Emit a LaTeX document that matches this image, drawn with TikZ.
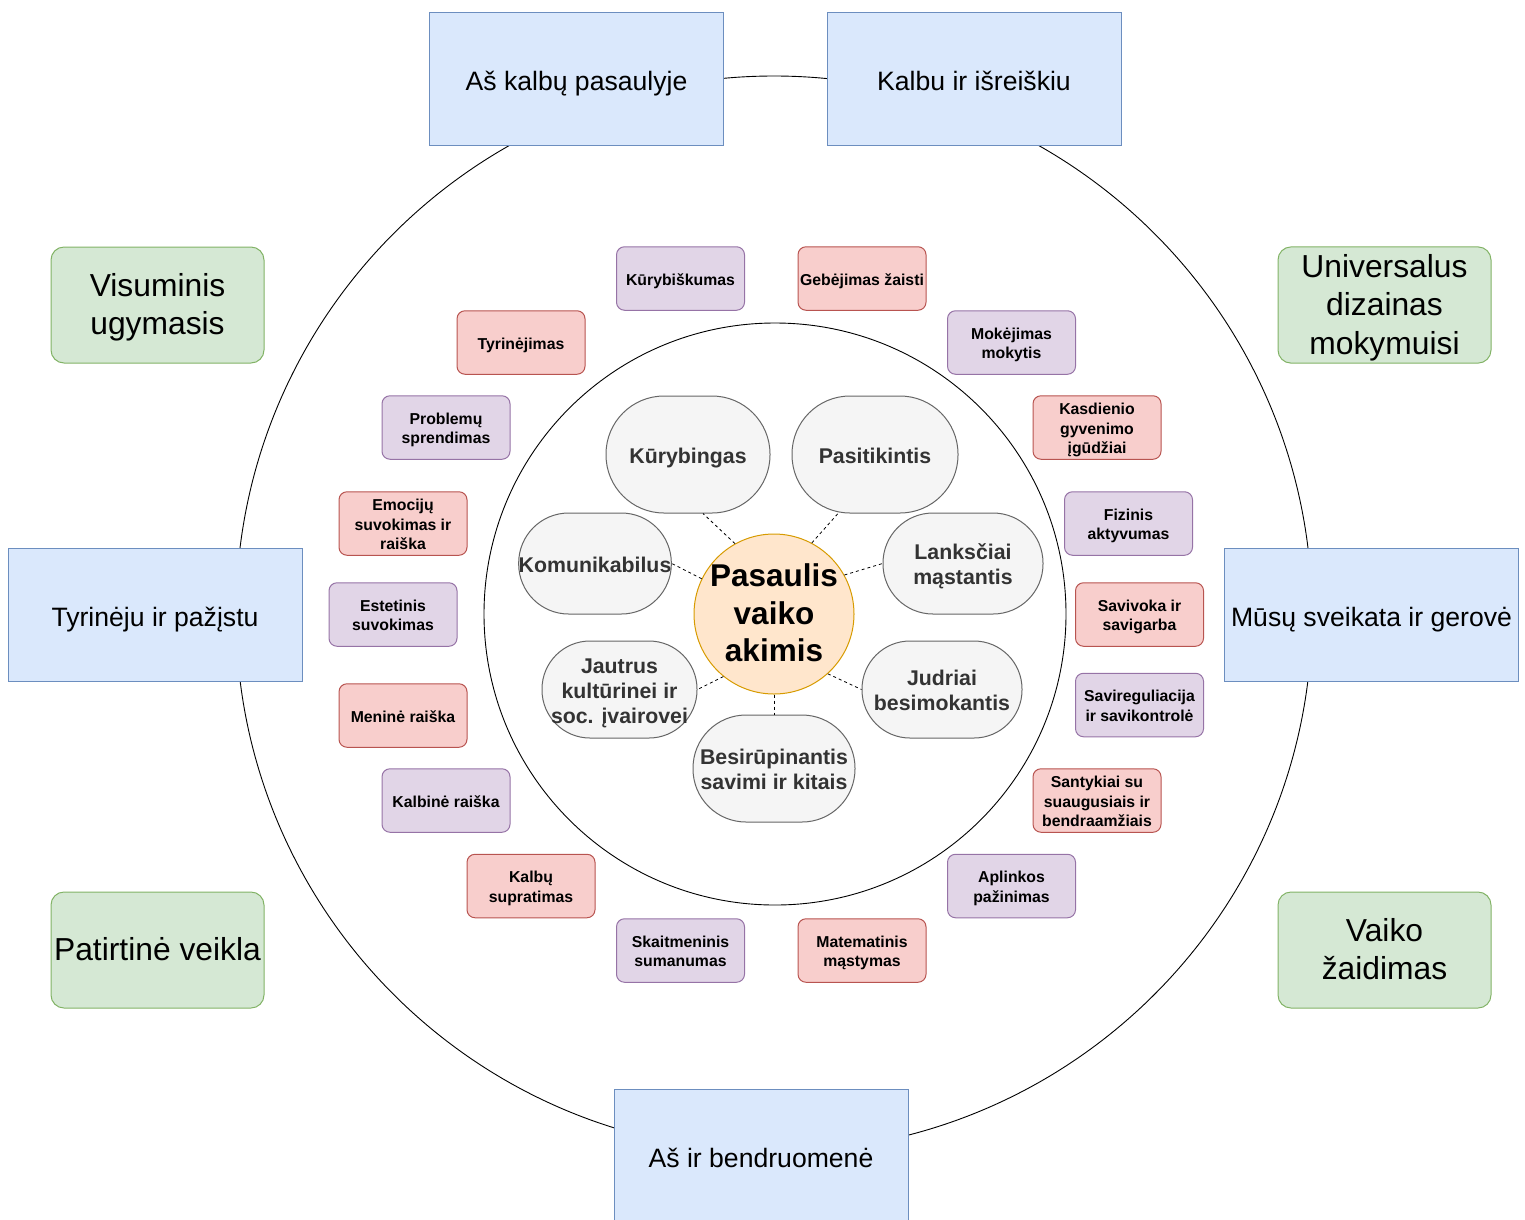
\documentclass[tikz,border=0pt]{standalone}
\usepackage{fontspec}
\setmainfont{Liberation Sans}
\definecolor{blueF}{HTML}{DAE8FC}\definecolor{blueB}{HTML}{6C8EBF}
\definecolor{greenF}{HTML}{D5E8D4}\definecolor{greenB}{HTML}{82B366}
\definecolor{purF}{HTML}{E1D5E7}\definecolor{purB}{HTML}{9673A6}
\definecolor{redF}{HTML}{F8CECC}\definecolor{redB}{HTML}{B85450}
\definecolor{orF}{HTML}{FFE6CC}\definecolor{orB}{HTML}{D79B00}
\definecolor{grayF}{HTML}{F5F5F5}\definecolor{grayB}{HTML}{666666}\definecolor{grayT}{HTML}{333333}
\begin{document}
\begin{tikzpicture}[x=1pt,y=-1pt,
  struts/.style 2 args={execute at begin node={\rule{0pt}{#1}},execute at end node={\rule[-#2]{0pt}{#2}}},
  topstrut/.style={execute at begin node={\rule{0pt}{#1}}},
  bluebox/.style={draw=blueB,fill=blueF,line width=1pt,minimum width=294pt,minimum height=133pt,inner sep=0pt,align=center,font=\fontsize{26.6}{32}\selectfont,struts={31pt}{8pt}},
  greenbox/.style={draw=greenB,fill=greenF,rounded corners=13pt,line width=1pt,minimum width=213pt,minimum height=116pt,inner sep=0pt,align=center,font=\fontsize{31.8}{38.3}\selectfont,struts={30.6pt}{9pt}},
  gtwo/.style={topstrut=68.9pt}, gthree/.style={topstrut=107.2pt},
  smallbox/.style={rounded corners=8pt,line width=1pt,minimum width=128pt,minimum height=63.5pt,inner sep=0pt,align=center,font=\fontsize{15.8}{19.3}\selectfont\bfseries,struts={18pt}{5pt}},
  stwo/.style={topstrut=37.3pt}, sthree/.style={topstrut=56.6pt},
  purbox/.style={smallbox,draw=purB,fill=purF},
  redbox/.style={smallbox,draw=redB,fill=redF},
  petal/.style={draw=grayB,fill=grayF,line width=1pt,inner sep=0pt,align=center,text=grayT,font=\fontsize{21.3}{25}\selectfont\bfseries,struts={24.1pt}{6.5pt}},
  ptwo/.style={topstrut=49.1pt}, pthree/.style={topstrut=74.1pt},
  hub/.style={circle,draw=orB,fill=orF,line width=1pt,minimum size=160pt,inner sep=-8pt,align=center,font=\fontsize{31.5}{37.5}\selectfont\bfseries,struts={29.4pt}{9pt},topstrut=104.4pt},
  ring/.style={draw=black,line width=0.9pt},
  conn/.style={draw=black,line width=0.8pt,dash pattern=on 3pt off 3pt}
]
\useasboundingbox (0,0) rectangle (1525,1219);
% rings
\draw[ring] (774,614) circle[radius=538pt];
\draw[ring] (775,614) circle[radius=291pt];
% blue boxes
\node[bluebox] (b1) at (576.5,78.5) {Aš kalbų pasaulyje};
\node[bluebox] (b2) at (974,78.5) {Kalbu ir išreiškiu};
\node[bluebox] (b3) at (155,614.5) {Tyrinėju ir pažįstu};
\node[bluebox] (b4) at (1371.5,614.5) {Mūsų sveikata ir gerovė};
\node[bluebox] (b5) at (761,1155.5) {Aš ir bendruomenė};
% green boxes
\node[greenbox,gtwo] (g1) at (157.5,305) {Visuminis\\ugymasis};
\node[greenbox,gthree] (g2) at (1384.5,305) {Universalus\\dizainas\\mokymuisi};
\node[greenbox] (g3) at (157.5,950) {Patirtinė veikla};
\node[greenbox,gtwo] (g4) at (1384.5,950) {Vaiko\\žaidimas};
% small boxes
\node[purbox] (s1) at (680.5,278.5) {Kūrybiškumas};
\node[redbox] (s2) at (862,278.5) {Gebėjimas žaisti};
\node[purbox,stwo] (s3) at (1011.5,342.5) {Mokėjimas\\mokytis};
\node[redbox,sthree] (s4) at (1097,427.5) {Kasdienio\\gyvenimo\\įgūdžiai};
\node[purbox,stwo] (s5) at (1128.5,523.5) {Fizinis\\aktyvumas};
\node[redbox,stwo] (s6) at (1139.5,614.5) {Savivoka ir\\savigarba};
\node[purbox,stwo] (s7) at (1139.5,705) {Savireguliacija\\ir savikontrolė};
\node[redbox,sthree] (s8) at (1097,800.5) {Santykiai su\\suaugusiais ir\\bendraamžiais};
\node[purbox,stwo] (s9) at (1011.5,886) {Aplinkos\\pažinimas};
\node[redbox,stwo] (s10) at (862,950.5) {Matematinis\\mąstymas};
\node[purbox,stwo] (s11) at (680.5,950.5) {Skaitmeninis\\sumanumas};
\node[redbox,stwo] (s12) at (531,886) {Kalbų\\supratimas};
\node[purbox] (s13) at (446,800.5) {Kalbinė raiška};
\node[redbox] (s14) at (403,715.5) {Meninė raiška};
\node[purbox,stwo] (s15) at (393,614.5) {Estetinis\\suvokimas};
\node[redbox,sthree] (s16) at (403,523.5) {Emocijų\\suvokimas ir\\raiška};
\node[purbox,stwo] (s17) at (446,427.5) {Problemų\\sprendimas};
\node[redbox] (s18) at (521,342.5) {Tyrinėjimas};
% petals
\node[petal,rounded corners=58pt,minimum width=164pt,minimum height=117pt] (kur) at (688,454.5) {Kūrybingas};
\node[petal,rounded corners=58pt,minimum width=166pt,minimum height=117pt] (pas) at (875,454.5) {Pasitikintis};
\node[petal,rounded corners=50pt,minimum width=150pt,minimum height=101pt] (kom) at (595,563.5) {Komunikabilus};
\node[petal,ptwo,rounded corners=50pt,minimum width=160pt,minimum height=101pt] (lan) at (963,563.5) {Lanksčiai\\mąstantis};
\node[petal,pthree,rounded corners=48pt,minimum width=155pt,minimum height=97pt] (jau) at (619.5,689.5) {Jautrus\\kultūrinei ir\\soc. įvairovei};
\node[petal,ptwo,rounded corners=48pt,minimum width=160pt,minimum height=97pt] (jud) at (942,689.5) {Judriai\\besimokantis};
\node[petal,ptwo,rounded corners=53pt,minimum width=162pt,minimum height=107pt] (bes) at (774,768.5) {Besirūpinantis\\savimi ir kitais};
% center
\node[hub] (c) at (774,614) {Pasaulis\\vaiko\\akimis};
% connectors
\draw[conn] (c.119) -- ([xshift=15pt]kur.south);
\draw[conn] (c.62) -- ([xshift=-37pt]pas.south);
\draw[conn] (c.154) -- (kom.east);
\draw[conn] (c.29) -- (lan.west);
\draw[conn] (c.231) -- (jau.east);
\draw[conn] (c.312) -- (jud.west);
\draw[conn] (c.south) -- (bes.north);
\end{tikzpicture}
\end{document}
